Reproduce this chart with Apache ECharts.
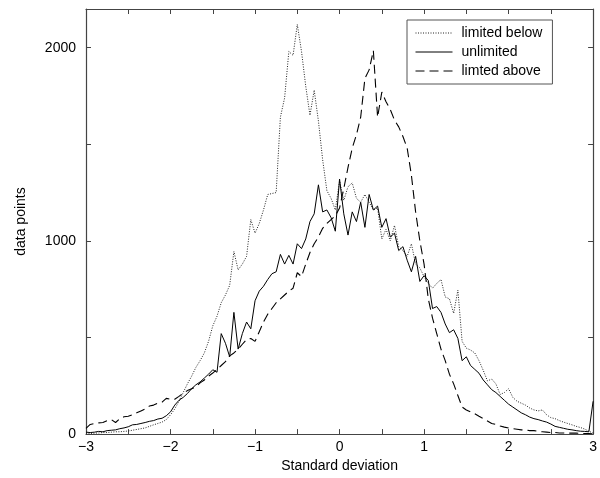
<!DOCTYPE html>
<html>
<head>
<meta charset="utf-8">
<script src="https://cdn.jsdelivr.net/npm/echarts@6/dist/echarts.min.js"></script>
<style>
html,body{margin:0;padding:0;background:#fff;}
#chart{width:600px;height:478px;}
</style>
</head>
<body>
<div id="chart"></div>
<script>
const xValues = [
-3.00,-2.95,-2.90,-2.85,-2.80,-2.75,-2.70,-2.65,-2.60,-2.55,-2.50,-2.45,-2.40,-2.35,-2.30,-2.25,-2.20,-2.15,-2.10,-2.05,
-2.00,-1.95,-1.90,-1.85,-1.80,-1.75,-1.70,-1.65,-1.60,-1.55,-1.50,-1.45,-1.40,-1.35,-1.30,-1.25,-1.20,-1.15,-1.10,-1.05,
-1.00,-0.95,-0.90,-0.85,-0.80,-0.75,-0.70,-0.65,-0.60,-0.55,-0.50,-0.45,-0.40,-0.35,-0.30,-0.25,-0.20,-0.15,-0.10,-0.05,
0.00,0.05,0.10,0.15,0.20,0.25,0.30,0.35,0.40,0.45,0.50,0.55,0.60,0.65,0.70,0.75,0.80,0.85,0.90,0.95,
1.00,1.05,1.10,1.15,1.20,1.25,1.30,1.35,1.40,1.45,1.50,1.55,1.60,1.65,1.70,1.75,1.80,1.85,1.90,1.95,
2.00,2.05,2.10,2.15,2.20,2.25,2.30,2.35,2.40,2.45,2.50,2.55,2.60,2.65,2.70,2.75,2.80,2.85,2.90,2.95,
3.00];

const limitedBelow = [
0,3,5,6,8,8,10,12,12,14,16,20,24,28,32,40,48,55,62,75,
100,130,170,215,260,300,345,380,420,480,560,610,680,720,770,945,850,880,920,1110,
1040,1090,1160,1240,1245,1250,1640,1740,1980,1960,2120,1980,1800,1650,1780,1620,1420,1260,1220,1160,
1310,1210,1280,1300,1220,1200,1240,1200,1160,1170,1010,1060,1000,1080,970,950,920,985,880,860,
815,780,755,780,800,710,700,625,745,480,445,435,420,380,330,275,285,260,205,215,
235,190,170,160,150,135,125,120,125,100,85,80,70,62,55,48,40,34,26,15,
5];

const unlimited = [
10,8,10,14,12,18,20,22,28,32,38,48,50,55,60,66,70,78,82,95,
115,150,175,190,210,235,255,270,290,310,333,320,520,470,400,630,440,520,580,545,
690,740,765,800,830,840,930,880,925,880,985,960,1010,1100,1140,1290,1150,1160,1120,1050,
1320,1140,1030,1150,1100,1200,1070,1240,1160,1180,1070,1115,1020,1040,950,970,900,840,920,790,
820,795,650,660,630,570,525,540,495,380,400,355,335,315,280,255,230,215,195,175,
155,140,125,110,100,88,80,75,68,62,52,40,35,30,25,22,18,15,14,12,
170];

const limitedAbove = [
30,50,55,58,60,70,75,60,80,90,92,100,110,120,130,145,150,160,165,185,
180,180,195,212,225,235,245,265,280,300,316,335,355,375,405,420,440,465,490,495,
480,530,580,620,650,680,700,720,740,755,835,815,880,940,985,1020,1065,1090,1110,1130,
1170,1270,1380,1480,1550,1640,1840,1885,1985,1640,1770,1720,1680,1625,1590,1540,1480,1340,1150,1000,
880,700,600,520,440,380,310,260,200,140,125,115,105,92,80,68,55,50,42,36,
32,28,25,22,22,18,18,14,12,10,8,8,6,6,5,5,5,4,3,3,
2];

const seriesNames = ['limited below', 'unlimited', 'limted above'];
const xTickLabels = {'-3':'\u22123','-2':'\u22122','-1':'\u22121','0':'0','1':'1','2':'2','3':'3'};
const yTickLabels = {'0':'0','1000':'1000','2000':'2000'};

function pairs(ys){ return xValues.map((x,i)=>[x, ys[i]]); }

const FONT = 'Liberation Sans, Arial, Helvetica, sans-serif';
const AXC = '#444';

const chart = echarts.init(document.getElementById('chart'), null, {renderer:'canvas'});
chart.setOption({
  animation: false,
  backgroundColor: '#fff',
  textStyle: {fontFamily: FONT},
  grid: {left: 86, right: 1, top: 9, bottom: 42, containLabel: false},
  legend: {
    left: 407, top: 20, orient: 'vertical',
    data: seriesNames,
    backgroundColor: '#fff',
    borderColor: '#555', borderWidth: 1,
    padding: [6, 10, 6, 8],
    itemGap: 5,
    itemWidth: 37, itemHeight: 14,
    itemStyle: {opacity: 0, borderWidth: 0},
    lineStyle: {opacity: 1, width: 1},
    textStyle: {fontSize: 14, color: '#000', fontFamily: FONT, lineHeight: 14, padding: [0,0,0,4]}
  },
  xAxis: [{
    type: 'value', min: -3, max: 3, interval: 0.5, position: 'bottom',
    name: 'Standard deviation', nameLocation: 'middle', nameGap: 24,
    nameTextStyle: {fontSize: 14, color: '#000', fontFamily: FONT},
    axisLine: {show: true, onZero: false, lineStyle: {color: AXC, width: 1.2}},
    axisTick: {show: true, inside: true, length: 5, lineStyle: {color: AXC}},
    axisLabel: {fontSize: 14, color: '#000', margin: 6, fontFamily: FONT,
      formatter: v => { const k = String(Math.round(v*100)/100); return xTickLabels[k] !== undefined ? xTickLabels[k] : ''; }},
    splitLine: {show: false}
  }, {
    type: 'value', min: -3, max: 3, interval: 0.5, position: 'top',
    axisLine: {show: true, onZero: false, lineStyle: {color: AXC, width: 1.2}},
    axisTick: {show: true, inside: true, length: 5, lineStyle: {color: AXC}},
    axisLabel: {show: false}, splitLine: {show: false}
  }],
  yAxis: [{
    type: 'value', min: 0, max: 2200, interval: 500, position: 'left',
    name: 'data points', nameLocation: 'middle', nameGap: 58, nameRotate: 90,
    nameTextStyle: {fontSize: 14, color: '#000', fontFamily: FONT},
    axisLine: {show: true, onZero: false, lineStyle: {color: AXC, width: 1.2}},
    axisTick: {show: true, inside: true, length: 5, lineStyle: {color: AXC}},
    axisLabel: {fontSize: 14, color: '#000', margin: 10, fontFamily: FONT,
      formatter: v => yTickLabels[String(v)] !== undefined ? yTickLabels[String(v)] : ''},
    splitLine: {show: false}
  }, {
    type: 'value', min: 0, max: 2200, interval: 500, position: 'right',
    axisLine: {show: true, onZero: false, lineStyle: {color: AXC, width: 1.2}},
    axisTick: {show: true, inside: true, length: 5, lineStyle: {color: AXC}},
    axisLabel: {show: false}, splitLine: {show: false}
  }],
  series: [
    {name: seriesNames[0], type: 'line', data: pairs(limitedBelow), symbol: 'none',
     lineStyle: {color: '#222', width: 1, type: [1, 1.5]}, itemStyle: {color: '#222'}, z: 3},
    {name: seriesNames[1], type: 'line', data: pairs(unlimited), symbol: 'none',
     lineStyle: {color: '#000', width: 1, type: 'solid'}, itemStyle: {color: '#000'}, z: 4},
    {name: seriesNames[2], type: 'line', data: pairs(limitedAbove), symbol: 'none',
     lineStyle: {color: '#000', width: 1.1, type: [9, 5]}, itemStyle: {color: '#000'}, z: 2}
  ]
});
</script>
</body>
</html>
